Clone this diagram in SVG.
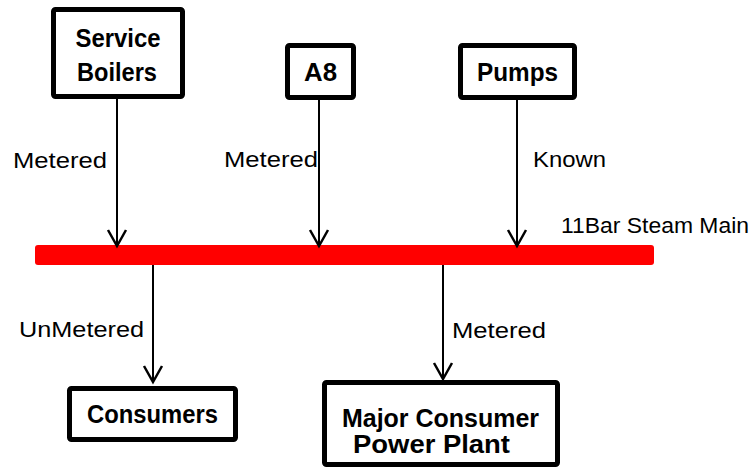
<svg xmlns="http://www.w3.org/2000/svg" width="752" height="469" viewBox="0 0 752 469">
<style>
.box{fill:#fff;stroke:#000;stroke-width:5}
.nt{font-family:"Liberation Sans",Arial,sans-serif;font-weight:bold;font-size:25px;fill:#000;text-anchor:middle}
.lb{font-family:"Liberation Sans",Arial,sans-serif;font-size:22px;fill:#000}
.ln{stroke:#000;stroke-width:2;fill:none;marker-end:url(#ah)}
</style>
<defs>
<marker id="ah" markerUnits="userSpaceOnUse" markerWidth="40" markerHeight="40" viewBox="-20 -20 40 40" refX="0" refY="0" orient="auto" overflow="visible">
<path d="M-16,-9 L0,0 L-16,9" fill="none" stroke="#000" stroke-width="2.5"/>
</marker>
</defs>
<rect id="main" x="35" y="245" width="619" height="20" rx="3" fill="#ff0000"/>
<text class="lb" x="561" y="233" textLength="188" lengthAdjust="spacingAndGlyphs">11Bar Steam Main</text>
<g id="connectors">
<line class="ln" x1="117" y1="99" x2="117" y2="246"/>
<line class="ln" x1="319" y1="100" x2="319" y2="246"/>
<line class="ln" x1="517" y1="100" x2="517" y2="246"/>
<line class="ln" x1="153" y1="265" x2="153" y2="382"/>
<line class="ln" x1="443" y1="265" x2="443" y2="379"/>
<text class="lb" x="13" y="168" textLength="94" lengthAdjust="spacingAndGlyphs">Metered</text>
<text class="lb" x="224" y="167" textLength="94" lengthAdjust="spacingAndGlyphs">Metered</text>
<text class="lb" x="533" y="167" textLength="73" lengthAdjust="spacingAndGlyphs">Known</text>
<text class="lb" x="19" y="337" textLength="125" lengthAdjust="spacingAndGlyphs">UnMetered</text>
<text class="lb" x="452" y="338" textLength="94" lengthAdjust="spacingAndGlyphs">Metered</text>
</g>
<g id="service-boilers">
<rect class="box" x="53.5" y="9.5" width="129" height="87" rx="2"/>
<text class="nt" x="118" y="47" textLength="85" lengthAdjust="spacingAndGlyphs">Service</text>
<text class="nt" x="117" y="81" textLength="80" lengthAdjust="spacingAndGlyphs">Boilers</text>
</g>
<g id="a8">
<rect class="box" x="287.5" y="45.5" width="66" height="52" rx="2"/>
<text class="nt" x="320.5" y="81" textLength="33" lengthAdjust="spacingAndGlyphs">A8</text>
</g>
<g id="pumps">
<rect class="box" x="460.5" y="45.5" width="114" height="52" rx="2"/>
<text class="nt" x="517.5" y="81" textLength="81" lengthAdjust="spacingAndGlyphs">Pumps</text>
</g>
<g id="consumers">
<rect class="box" x="69.5" y="388.5" width="166" height="51" rx="2"/>
<text class="nt" x="152.5" y="423" textLength="131" lengthAdjust="spacingAndGlyphs">Consumers</text>
</g>
<g id="major-consumer">
<rect class="box" x="324.5" y="382.5" width="233" height="82" rx="2"/>
<text class="nt" x="440.5" y="427" textLength="197" lengthAdjust="spacingAndGlyphs">Major Consumer</text>
<text class="nt" x="431.5" y="453" textLength="157" lengthAdjust="spacingAndGlyphs">Power Plant</text>
</g>
</svg>
